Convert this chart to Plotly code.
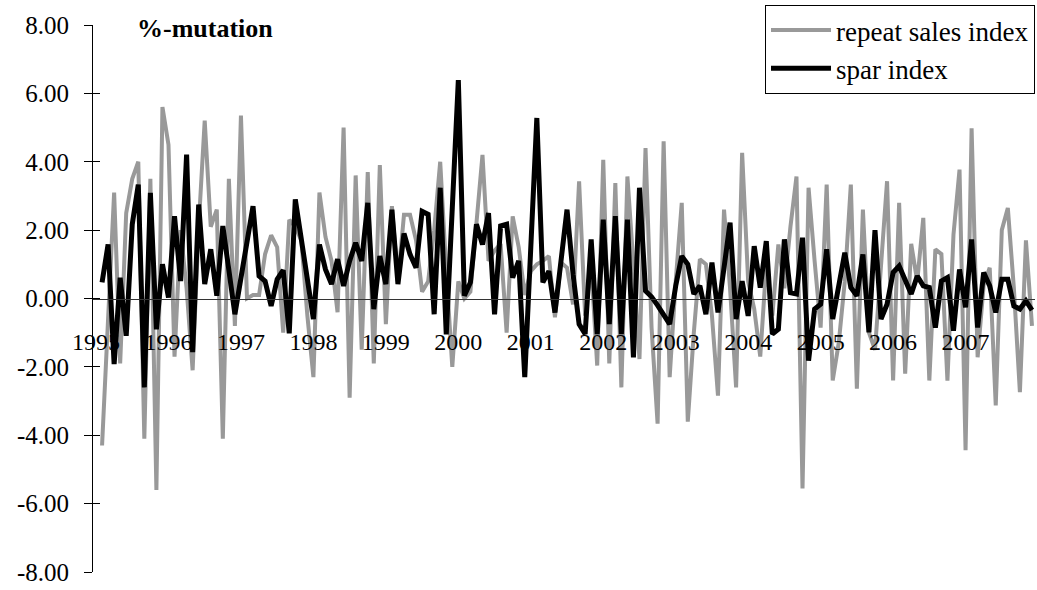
import plotly.graph_objects as go

# Monthly %-mutation, Feb 1995 .. Dec 2007 (month index 1..155, Jan 1995 = 0)
repeat_sales = [
    -4.3, -0.6, 3.1, -1.9, 2.5, 3.5, 4.0, -4.1, 3.5, -5.6, 5.6, 4.5,
    -1.7, 2.0, 0.3, -2.1, 2.1, 5.2, 2.1, 2.6, -4.1, 3.5, -0.8, 5.35,
    0.0, 0.1, 0.1, 1.3, 1.85, 1.5, -1.0, 2.3, 2.1, 1.7, -0.5, -2.3,
    3.1, 1.8, 1.1, -0.4, 5.0, -2.9, 3.6, -1.5, 3.7, -1.9, 3.9, -0.75,
    2.7, 0.5, 2.45, 2.45, 1.7, 0.2, 0.5, 2.0, 4.0, 0.8, -2.0, 0.5,
    0.0, 0.2, 2.1, 4.2, 1.1, 1.4, 1.6, -1.0, 2.4, 1.5, 0.1, 0.8,
    1.0, 1.1, 1.24, -0.55, 1.05, 0.9, -0.17, 3.43, -0.5, 1.0, -1.96, 4.06,
    -1.9, 3.38, -2.6, 3.57, 1.0, -1.77, 4.4, -0.85, -3.66, 4.6, -2.3, 0.5,
    2.8, -3.6, -1.0, 1.15, 1.0, -0.5, -2.84, 2.6, 0.3, -2.6, 4.26, 0.5,
    -0.3, -1.7, 1.0, -0.5, 1.58, 0.3, 2.1, 3.57, -5.56, 3.24, 1.1, -0.85,
    3.33, -2.4, -1.3, 0.5, 3.33, -2.64, 2.6, -1.0, -1.5, 1.0, 3.43, -2.4,
    2.8, -2.2, 1.6, 0.5, 2.36, -2.4, 1.44, 1.3, -2.4, 1.87, 3.77, -4.44,
    4.98, -1.72, 0.4, 0.9, -3.13, 2.0, 2.65, 0.3, -2.74, 1.7, -0.8,
]

spar = [
    0.47, 1.58, -1.92, 0.61, -1.09, 2.17, 3.33, -2.6, 3.09, -0.9, 1.0, 0.03,
    2.41, 0.51, 4.21, -1.57, 2.75, 0.42, 1.44, 0.08, 2.12, 0.95, -0.46, 0.6,
    1.6, 2.7, 0.66, 0.51, -0.22, 0.56, 0.83, -1.02, 2.9, 1.73, 0.57, -0.6,
    1.58, 0.85, 0.42, 1.15, 0.37, 1.1, 1.63, 1.1, 2.8, -0.31, 1.24, 0.42,
    2.6, 0.42, 1.9, 1.29, 0.9, 2.55, 2.46, -0.46, 3.24, -1.05, 2.65, 6.39,
    0.08, 0.47, 2.17, 1.58, 2.5, -0.46, 2.12, 2.17, 0.61, 1.1, -2.3, 1.5,
    5.28, 0.47, 0.8, -0.41, 1.1, 2.6, 0.71, -0.75, -1.04, 1.73, -1.04, 2.31,
    -0.75, 2.41, -1.04, 2.31, -1.72, 3.24, 0.22, 0.05, -0.2, -0.45, -0.75, 0.37,
    1.24, 1.0, 0.13, 0.37, -0.46, 1.05, -0.41, 0.9, 2.22, -0.6, 0.51, -0.51,
    1.53, 0.32, 1.68, -1.04, -0.9, 1.73, 0.17, 0.13, 1.78, -1.82, -0.31, -0.17,
    1.44, -0.6, 0.47, 1.34, 0.32, 0.08, 1.29, -0.99, 2.0, -0.6, -0.17, 0.76,
    0.95, 0.55, 0.13, 0.66, 0.37, 0.32, -0.85, 0.51, 0.61, -0.94, 0.85, -0.26,
    1.73, -0.85, 0.76, 0.37, -0.41, 0.56, 0.56, -0.22, -0.31, -0.07, -0.34,
]

years = [str(y) for y in range(1995, 2008)]
y_ticks = [-8, -6, -4, -2, 0, 2, 4, 6, 8]
y_labels = ["-8.00", "-6.00", "-4.00", "-2.00", "0.00", "2.00", "4.00", "6.00", "8.00"]

months = list(range(1, len(spar) + 1))
year_pos = [12 * k for k in range(len(years))]

FONT = "Liberation Serif"

fig = go.Figure()
fig.add_trace(go.Scatter(
    x=months, y=repeat_sales, mode="lines", name="repeat sales index",
    line=dict(color="#999999", width=4),
))
fig.add_trace(go.Scatter(
    x=months, y=spar, mode="lines", name="spar index",
    line=dict(color="#000000", width=5),
))
# invisible trace to carry the inner tick marks of the y axis
fig.add_trace(go.Scatter(x=[None], y=[None], yaxis="y2", showlegend=False))

fig.update_layout(
    width=1037, height=590,
    margin=dict(l=93, r=2, t=25, b=18),
    paper_bgcolor="white", plot_bgcolor="white",
    font=dict(family=FONT, size=24, color="black"),
    showlegend=True,
    legend=dict(
        x=1.0, y=1.0366, xanchor="right", yanchor="top",
        bgcolor="white", bordercolor="black", borderwidth=1,
        font=dict(family=FONT, size=27, color="black"),
        itemwidth=60, tracegroupgap=0,
    ),
    xaxis=dict(
        range=[-0.5, 155.5], anchor="free", position=0.5,
        showgrid=False, zeroline=False,
        showline=True, linecolor="#333333", linewidth=1,
        ticks="", tickvals=year_pos, ticktext=years,
        ticklabelstandoff=22,
        tickfont=dict(family=FONT, size=24, color="black"),
    ),
    yaxis=dict(
        range=[-8, 8], tickvals=y_ticks, ticktext=y_labels,
        showgrid=False, zeroline=False,
        showline=True, linecolor="black", linewidth=1,
        ticks="outside", ticklen=8, tickcolor="black", tickwidth=1,
        ticklabelstandoff=10,
        tickfont=dict(family=FONT, size=25, color="black"),
    ),
    yaxis2=dict(
        range=[-8, 8], tickvals=y_ticks, overlaying="y", side="left",
        showgrid=False, zeroline=False, showline=False,
        ticks="inside", ticklen=7, tickcolor="black", tickwidth=1,
        showticklabels=False,
    ),
    annotations=[dict(
        text="<b>%-mutation</b>", xref="paper", yref="paper",
        x=0.0446, y=0.994, xanchor="left", yanchor="middle",
        showarrow=False, font=dict(family=FONT, size=26, color="black"),
    )],
)

fig.write_html(
    "out.html",
    config={"displayModeBar": False},
    post_script="document.body.style.margin='0';document.body.style.padding='0';",
)
